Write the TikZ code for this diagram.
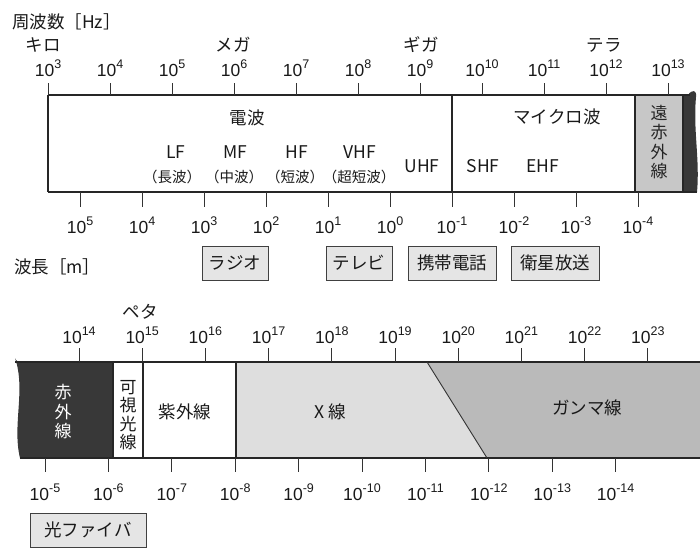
\documentclass[tikz,border=0pt]{standalone}
\usepackage{fontspec}
\setmainfont{Liberation Sans}
\newfontfamily\jp{Noto Sans CJK JP}
\newcommand\pw[1]{10\raisebox{0.42em}{\fontsize{12.5}{13}\selectfont #1}}
\begin{document}
\begin{tikzpicture}[x=1pt,y=-1pt,
  num/.style={font=\fontsize{17.5}{20}\selectfont, inner sep=0pt, anchor=base, text=black!90},
  jtxt/.style={font=\jp\fontsize{17.5}{20}\selectfont, inner sep=0pt, text=black!90},
  ptxt/.style={font=\jp\fontsize{14.5}{17}\selectfont, inner sep=0pt, text=black!90},
  vtxt/.style={font=\jp\fontsize{17}{19.5}\selectfont, inner sep=0pt, align=center},
  tag/.style={draw=black!75, fill=black!10, line width=0.9pt, font=\jp\fontsize{17.5}{20}\selectfont, inner sep=0pt, minimum height=34pt, text=black!90},
  bar/.style={line width=1.3pt, draw=black!85},
  tickline/.style={line width=0.9pt, draw=black!80}]
\useasboundingbox (0,0) rectangle (700,550);

% ---------- upper bar ----------
\fill[black!22] (635,95) rectangle (683,192);
\fill[black!78] (683,95) -- (688,95) .. controls (692,89) and (697,90) .. (696,97)
  .. controls (693,130) and (700,160) .. (697,192) -- (683,192) -- cycle;
\draw[bar] (48,95) -- (690,95);
\draw[bar] (48,192) -- (697,192);
\draw[bar] (48,95) -- (48,192);
\draw[bar] (452,95) -- (452,192);
\draw[bar] (635,95) -- (635,192);
\draw[bar] (683,95) -- (683,192);

\foreach \e [count=\i from 0] in {3,...,13}{
  \draw[tickline] (48+62*\i,83) -- (48+62*\i,95);
  \node[num] (f\e) at (48+62*\i,76) {\pw{\e}};
}
\foreach \e [count=\i from 0] in {5,4,3,2,1,0,-1,-2,-3,-4}{
  \draw[tickline] (80+62*\i,192) -- (80+62*\i,207);
  \node[num] (w\i) at (80+62*\i,233) {\pw{\e}};
}

\node[jtxt, anchor=west] (fhz) at (12,22) {周波数［Hz］};
\node[jtxt] (kilo) at (43,45) {キロ};
\node[jtxt] (mega) at (233,45) {メガ};
\node[jtxt] (giga) at (421,45) {ギガ};
\node[jtxt] (tera) at (604,45) {テラ};

\node[jtxt] (denpa) at (247,118) {電波};
\node[jtxt] (lf) at (176,152) {LF};
\node[jtxt] (mf) at (235,152) {MF};
\node[jtxt] (hf) at (297,152) {HF};
\node[jtxt] (vhf) at (360,152) {VHF};
\node[ptxt] (lfj) at (172,177) {（長波）};
\node[ptxt] (mfj) at (234,177) {（中波）};
\node[ptxt] (hfj) at (295,177) {（短波）};
\node[ptxt] (vhfj) at (359,177) {（超短波）};
\node[jtxt] (uhf) at (422,166) {UHF};
\node[jtxt] (shf) at (483,166) {SHF};
\node[jtxt] (ehf) at (543,166) {EHF};
\node[jtxt] (micro) at (557,117) {マイクロ波};
\node[vtxt, text=black!85] (fir) at (659,142) {遠\\赤\\外\\線};

\node[jtxt, anchor=west] (wlm) at (14,267) {波長［m］};
\node[tag, minimum width=66pt] (radio) at (235,263) {ラジオ};
\node[tag, minimum width=66pt] (tv) at (359,263) {テレビ};
\node[tag, minimum width=88pt] (mobile) at (452,263) {携帯電話};
\node[tag, minimum width=88pt] (sat) at (555,263) {衛星放送};

% ---------- lower bar ----------
\fill[black!78] (113,362) -- (18,362) .. controls (15,359) and (14,357) .. (15,358)
  .. controls (26,390) and (12,425) .. (20,458) -- (113,458) -- cycle;
\fill[black!13] (236,362) -- (427,362) -- (487,458) -- (236,458) -- cycle;
\fill[black!27] (427,362) -- (700,362) -- (700,458) -- (487,458) -- cycle;
\draw[bar] (15,362) -- (700,362);
\draw[bar] (20,458) -- (700,458);
\draw[bar] (113,362) -- (113,458);
\draw[bar] (143,362) -- (143,458);
\draw[bar] (236,362) -- (236,458);
\draw[line width=0.9pt, draw=black!80] (427,362) -- (487,458);

\foreach \e [count=\i from 0] in {14,...,23}{
  \draw[tickline] (79+63.2*\i,348) -- (79+63.2*\i,362);
  \node[num] (g\e) at (79+63.2*\i,343) {\pw{\e}};
}
\foreach \e [count=\i from 0] in {-5,-6,-7,-8,-9,-10,-11,-12,-13,-14}{
  \draw[tickline] (45+63.4*\i,458) -- (45+63.4*\i,472);
  \node[num] (v\i) at (45+63.4*\i,500) {\pw{\e}};
}

\node[jtxt] (peta) at (140,312) {ペタ};
\node[vtxt, text=white] (ir) at (63,412) {赤\\外\\線};
\node[vtxt, text=black!90, font=\jp\fontsize{17}{18.5}\selectfont] (vis) at (128,415) {可\\視\\光\\線};
\node[jtxt] (uv) at (185,412) {紫外線};
\node[jtxt] (xray) at (330,412) {X 線};
\node[jtxt] (gamma) at (587,408) {ガンマ線};

\node[tag, minimum width=116pt] (fiber) at (88,530) {光ファイバ};
\end{tikzpicture}
\end{document}
